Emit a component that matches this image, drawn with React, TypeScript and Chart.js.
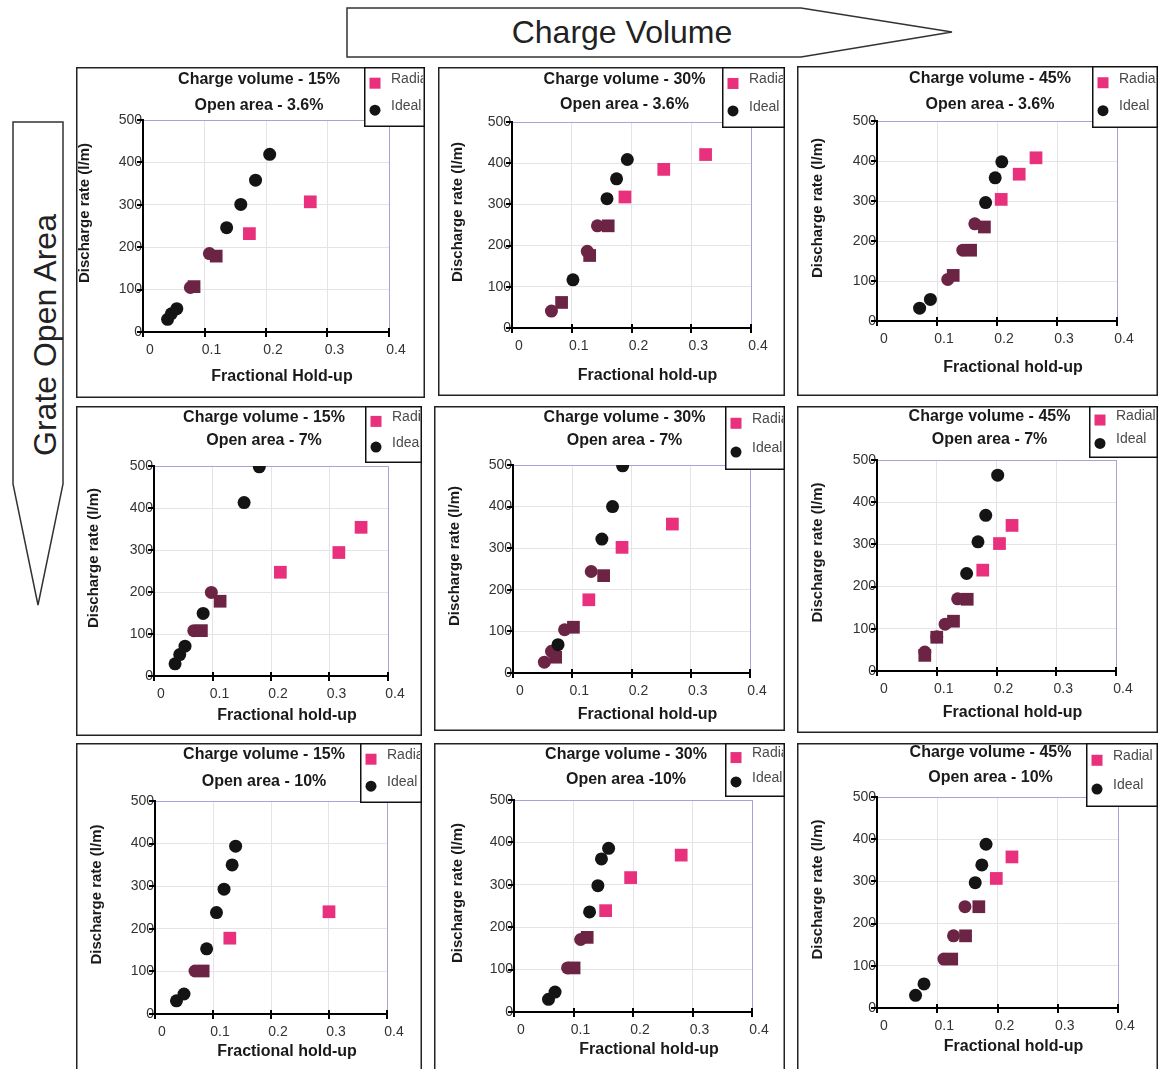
import React, { useEffect, useRef } from 'react';
import { Chart, registerables } from 'chart.js';

Chart.register(...registerables);

// ---------- text ----------
const X_TICK_LABELS = ['0', '0.1', '0.2', '0.3', '0.4'];
const Y_TICK_LABELS = ['0', '100', '200', '300', '400', '500'];
const SERIES_NAMES = ['Radial', 'Ideal'];
const Y_TITLE = 'Discharge rate (l/m)';
const X_TITLES = [
  'Fractional Hold-up', 'Fractional hold-up', 'Fractional hold-up',
  'Fractional hold-up', 'Fractional hold-up', 'Fractional hold-up',
  'Fractional hold-up', 'Fractional hold-up', 'Fractional hold-up',
];
const PANEL_TITLES = [
  ['Charge volume - 15%', 'Open area - 3.6%'],
  ['Charge volume - 30%', 'Open area - 3.6%'],
  ['Charge volume - 45%', 'Open area - 3.6%'],
  ['Charge volume - 15%', 'Open area - 7%'],
  ['Charge volume - 30%', 'Open area - 7%'],
  ['Charge volume - 45%', 'Open area - 7%'],
  ['Charge volume - 15%', 'Open area - 10%'],
  ['Charge volume - 30%', 'Open area -10%'],
  ['Charge volume - 45%', 'Open area - 10%'],
];

// ---------- data: [fractional hold-up, discharge rate l/m] ----------
const CV15_OA36_IDEAL = [[0.040, 30], [0.046, 43], [0.055, 55], [0.077, 105], [0.108, 185], [0.136, 246], [0.159, 301], [0.183, 358], [0.206, 419]];
const CV15_OA36_RADIAL = [[0.083, 107], [0.119, 179], [0.173, 232], [0.272, 307]];

const CV30_OA36_IDEAL = [[0.066, 41], [0.102, 117], [0.126, 186], [0.143, 248], [0.159, 314], [0.175, 362], [0.193, 409]];
const CV30_OA36_RADIAL = [[0.083, 62], [0.130, 176], [0.161, 248], [0.189, 318], [0.254, 385], [0.324, 421]];

const CV45_OA36_IDEAL = [[0.071, 32], [0.089, 54], [0.118, 104], [0.143, 177], [0.163, 243], [0.181, 296], [0.197, 358], [0.208, 398]];
const CV45_OA36_RADIAL = [[0.127, 114], [0.156, 177], [0.179, 235], [0.207, 304], [0.237, 367], [0.265, 408]];

const CV15_OA7_IDEAL = [[0.036, 29], [0.044, 51], [0.053, 71], [0.068, 108], [0.084, 149], [0.098, 199], [0.154, 413], [0.180, 498]];
const CV15_OA7_RADIAL = [[0.081, 108], [0.113, 178], [0.216, 247], [0.316, 294], [0.354, 354]];

const CV30_OA7_IDEAL = [[0.053, 26], [0.065, 52], [0.076, 68], [0.087, 104], [0.132, 244], [0.150, 322], [0.168, 400], [0.185, 498]];
const CV30_OA7_RADIAL = [[0.072, 38], [0.102, 110], [0.128, 176], [0.153, 234], [0.184, 302], [0.269, 358]];

const CV45_OA7_IDEAL = [[0.080, 45], [0.100, 81], [0.114, 111], [0.135, 171], [0.150, 231], [0.169, 306], [0.182, 369], [0.202, 464]];
const CV45_OA7_RADIAL = [[0.080, 37], [0.100, 80], [0.128, 118], [0.151, 170], [0.177, 239], [0.205, 302], [0.226, 345]];

const CV15_OA10_IDEAL = [[0.037, 31], [0.050, 47], [0.069, 101], [0.089, 153], [0.106, 238], [0.119, 293], [0.133, 350], [0.139, 394]];
const CV15_OA10_RADIAL = [[0.083, 101], [0.129, 178], [0.300, 240]];

const CV30_OA10_IDEAL = [[0.058, 30], [0.069, 47], [0.090, 104], [0.112, 171], [0.127, 236], [0.141, 298], [0.147, 361], [0.159, 386]];
const CV30_OA10_RADIAL = [[0.101, 104], [0.123, 176], [0.154, 239], [0.196, 317], [0.281, 370]];

const CV45_OA10_IDEAL = [[0.064, 30], [0.078, 57], [0.111, 116], [0.127, 171], [0.146, 240], [0.163, 297], [0.174, 339], [0.181, 388]];
const CV45_OA10_RADIAL = [[0.124, 116], [0.147, 171], [0.169, 240], [0.198, 307], [0.224, 358]];

const IDEAL_SERIES = [CV15_OA36_IDEAL, CV30_OA36_IDEAL, CV45_OA36_IDEAL, CV15_OA7_IDEAL, CV30_OA7_IDEAL, CV45_OA7_IDEAL, CV15_OA10_IDEAL, CV30_OA10_IDEAL, CV45_OA10_IDEAL];
const RADIAL_SERIES = [CV15_OA36_RADIAL, CV30_OA36_RADIAL, CV45_OA36_RADIAL, CV15_OA7_RADIAL, CV30_OA7_RADIAL, CV45_OA7_RADIAL, CV15_OA10_RADIAL, CV30_OA10_RADIAL, CV45_OA10_RADIAL];

// ---------- styles & layout ----------
const FONT = "'Liberation Sans', Arial, Helvetica, sans-serif";
const PINK = '#e8307c';
const BLACK = '#141414';
const MAROON = '#6c2445';
const GRID = '#e3e3e8';
const LAVENDER = '#a4a4d8';
const SERIES_COLORS = [PINK, BLACK];

type Layout = { box: number[]; plot: number[]; xTitleGap: number; yTitleX: number; legend: number[]; titleY: number[] };
const LAYOUT: Layout[] = [
  { box: [76, 67, 425, 398], plot: [143, 120, 389, 332], xTitleGap: 45, yTitleX: 84, legend: [364, 67, 425, 127], titleY: [80, 106] },
  { box: [438, 67, 785, 396], plot: [512, 122, 751, 328], xTitleGap: 48, yTitleX: 457, legend: [722, 67, 785, 128], titleY: [80, 105] },
  { box: [797, 66, 1158, 396], plot: [877, 121, 1117, 321], xTitleGap: 47, yTitleX: 817, legend: [1092, 66, 1158, 128], titleY: [79, 105] },
  { box: [76, 406, 422, 736], plot: [154, 466, 388, 676], xTitleGap: 40, yTitleX: 93, legend: [365, 406, 422, 463], titleY: [418, 441] },
  { box: [434, 406, 785, 731], plot: [513, 465, 750, 673], xTitleGap: 42, yTitleX: 454, legend: [725, 406, 785, 470], titleY: [418, 441] },
  { box: [797, 406, 1158, 733], plot: [877, 460, 1116, 671], xTitleGap: 42, yTitleX: 817, legend: [1089, 406, 1158, 458], titleY: [417, 440] },
  { box: [76, 743, 422, 1075], plot: [155, 801, 387, 1014], xTitleGap: 38, yTitleX: 96, legend: [360, 743, 422, 803], titleY: [755, 782] },
  { box: [434, 743, 785, 1075], plot: [514, 800, 752, 1012], xTitleGap: 38, yTitleX: 457, legend: [725, 743, 785, 797], titleY: [755, 780] },
  { box: [797, 743, 1158, 1075], plot: [877, 797, 1118, 1008], xTitleGap: 39, yTitleX: 817, legend: [1086, 743, 1158, 807], titleY: [753, 778] },
];

type Pt = { x: number; y: number };
const isPaired = (p: Pt, others: Pt[]) =>
  others.some((o) => Math.abs(o.x - p.x) < 0.025 && Math.abs(o.y - p.y) < 22);

function Panel({ idx }: { idx: number }) {
  const ref = useRef<HTMLCanvasElement | null>(null);
  const L = LAYOUT[idx];
  const [bl, bt, br, bb] = L.box;
  const [pl, pt, pr, pb] = L.plot;
  const W = br - bl;
  const H = bb - bt;

  useEffect(() => {
    const canvas = ref.current;
    if (!canvas) return;
    const radial: Pt[] = RADIAL_SERIES[idx].map(([x, y]) => ({ x, y }));
    const ideal: Pt[] = IDEAL_SERIES[idx].map(([x, y]) => ({ x, y }));

    const decor = {
      id: 'panelDecor',
      afterDraw(chart: any) {
        const ctx = chart.ctx as CanvasRenderingContext2D;
        const a = chart.chartArea;
        const xs = chart.scales.x;
        const ys = chart.scales.y;
        ctx.save();
        // tick marks crossing the axes
        ctx.strokeStyle = '#000';
        ctx.lineWidth = 2;
        ctx.beginPath();
        xs.ticks.forEach((t: any) => {
          const px = Math.round(xs.getPixelForValue(t.value));
          ctx.moveTo(px, a.bottom - 4);
          ctx.lineTo(px, a.bottom + 5);
        });
        ys.ticks.forEach((t: any) => {
          const py = Math.round(ys.getPixelForValue(t.value));
          ctx.moveTo(a.left - 6, py);
          ctx.lineTo(a.left, py);
        });
        ctx.stroke();
        // panel frame
        ctx.strokeStyle = '#222';
        ctx.lineWidth = 1.5;
        ctx.strokeRect(0.75, 0.75, W - 1.5, H - 1.5);
        // axis titles
        ctx.fillStyle = '#1a1a1a';
        ctx.textAlign = 'center';
        ctx.textBaseline = 'middle';
        ctx.font = `bold 16px ${FONT}`;
        ctx.fillText(X_TITLES[idx], (a.left + a.right) / 2 + 16, a.bottom + L.xTitleGap);
        ctx.save();
        ctx.translate(L.yTitleX - bl + 1, (a.top + a.bottom) / 2 - 13);
        ctx.rotate(-Math.PI / 2);
        ctx.font = `bold 15px ${FONT}`;
        ctx.fillText(Y_TITLE, 0, 0);
        ctx.restore();
        // two-line title
        ctx.font = `bold 16px ${FONT}`;
        const cx = (a.left + a.right) / 2 - 7;
        PANEL_TITLES[idx].forEach((s, i) => ctx.fillText(s, cx, L.titleY[i] - bt));
        // boxed legend
        const lx = L.legend[0] - bl;
        const ly = L.legend[1] - bt;
        const lw = L.legend[2] - L.legend[0];
        const lh = L.legend[3] - L.legend[1];
        ctx.fillStyle = '#fff';
        ctx.fillRect(lx, ly, lw, lh);
        ctx.strokeStyle = '#111';
        ctx.lineWidth = 1.5;
        ctx.strokeRect(lx + 0.75, ly + 0.75, lw - 1.5, lh - 1.5);
        ctx.save();
        ctx.beginPath();
        ctx.rect(lx, ly, lw - 2, lh);
        ctx.clip();
        const rows = [ly + lh * 0.27, ly + lh * 0.72];
        const mx = lx + 11;
        chart.data.datasets.forEach((ds: any, i: number) => {
          const y = rows[i];
          ctx.fillStyle = SERIES_COLORS[i];
          if (ds.pointStyle === 'rect') {
            ctx.fillRect(mx - 5.5, y - 5.5, 11, 11);
          } else {
            ctx.beginPath();
            ctx.arc(mx, y, 5.5, 0, Math.PI * 2);
            ctx.fill();
          }
          ctx.fillStyle = '#4a4a4a';
          ctx.font = `14px ${FONT}`;
          ctx.textAlign = 'left';
          ctx.textBaseline = 'middle';
          ctx.fillText(ds.label, mx + 16, y - 4);
        });
        ctx.restore();
        ctx.restore();
      },
    };

    const chart = new Chart(canvas, {
      type: 'scatter',
      data: {
        datasets: [
          {
            label: SERIES_NAMES[0],
            data: radial,
            order: 1,
            pointStyle: 'rect',
            pointRadius: 9,
            pointBorderWidth: 0,
            pointBackgroundColor: (c: any) => (c.raw && isPaired(c.raw, ideal) ? MAROON : PINK),
          },
          {
            label: SERIES_NAMES[1],
            data: ideal,
            order: 0,
            pointStyle: 'circle',
            pointRadius: 6.5,
            pointBorderWidth: 0,
            pointBackgroundColor: (c: any) => (c.raw && isPaired(c.raw, radial) ? MAROON : BLACK),
          },
        ],
      } as any,
      options: {
        responsive: false,
        animation: false,
        events: [],
        layout: { padding: { left: 0, top: pt - bt, right: br - pr, bottom: 0 } },
        plugins: { legend: { display: false }, title: { display: false }, tooltip: { enabled: false } },
        scales: {
          x: {
            type: 'linear',
            min: 0,
            max: 0.4,
            afterFit: (s: any) => { s.height = bb - pb; },
            ticks: {
              stepSize: 0.1,
              autoSkip: false,
              maxRotation: 0,
              callback: (_v: any, i: number) => X_TICK_LABELS[i],
              font: { size: 14, family: FONT },
              color: '#333',
              padding: 10,
              labelOffset: 7,
            },
            grid: { color: (c: any) => (c.index === 4 ? LAVENDER : GRID), drawTicks: false, lineWidth: 1 },
            border: { color: '#000', width: 2 },
            title: { display: false },
          },
          y: {
            type: 'linear',
            min: 0,
            max: 500,
            afterFit: (s: any) => { s.width = pl - bl; },
            ticks: {
              stepSize: 100,
              autoSkip: false,
              callback: (_v: any, i: number) => Y_TICK_LABELS[i],
              font: { size: 14, family: FONT },
              color: '#333',
              padding: 1,
            },
            grid: { color: (c: any) => (c.index === 5 ? LAVENDER : GRID), drawTicks: false, lineWidth: 1 },
            border: { color: '#000', width: 2 },
            title: { display: false },
          },
        },
      } as any,
      plugins: [decor],
    });
    return () => chart.destroy();
  }, [idx]);

  return (
    <canvas
      ref={ref}
      width={W}
      height={H}
      style={{ position: 'absolute', left: bl, top: bt, width: W, height: H }}
    />
  );
}

export default function App() {
  return (
    <div
      style={{
        position: 'fixed',
        left: 0,
        top: 0,
        width: 1159,
        height: 1069,
        overflow: 'hidden',
        background: '#fff',
        fontFamily: FONT,
      }}
    >
      <svg width={1159} height={1069} style={{ position: 'absolute', left: 0, top: 0 }}>
        <polygon points="347,8 801,8 952,32 801,57 347,57" fill="#fff" stroke="#333" strokeWidth={1.5} />
        <text x={622} y={43} fontSize={32} fontFamily={FONT} textAnchor="middle" fill="#222">
          Charge Volume
        </text>
        <polygon points="13,122 63,122 63,484 38,605 13,484" fill="#fff" stroke="#333" strokeWidth={1.5} />
        <text transform="translate(56,335) rotate(-90)" fontSize={32} fontFamily={FONT} textAnchor="middle" fill="#222">
          Grate Open Area
        </text>
      </svg>
      {LAYOUT.map((_, i) => (
        <Panel key={i} idx={i} />
      ))}
    </div>
  );
}
